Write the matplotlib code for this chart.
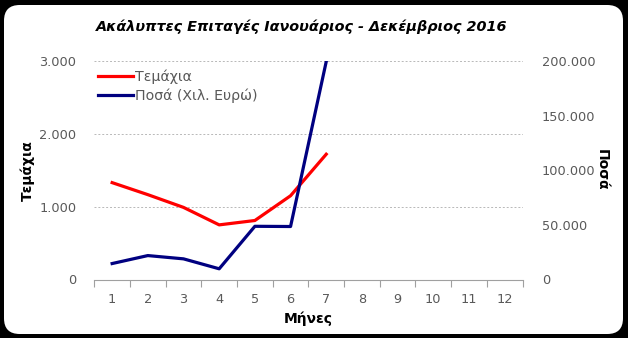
import numpy as np
import matplotlib
matplotlib.use("Agg")
import matplotlib.pyplot as plt
from matplotlib.patches import FancyBboxPatch
from matplotlib.ticker import FuncFormatter, FixedLocator

months = list(range(1, 13))
temaxia = [1330, 1165, 990, 750, 810, 1150, 1720]
posa = [14600, 21900, 18900, 9800, 48700, 48500, 199500]

plt.rcParams['font.family'] = ['DejaVu Sans']
gray = "#595959"

fig = plt.figure(figsize=(6.28, 3.38), dpi=100)
fig.patch.set_facecolor("black")
fig.patches.append(FancyBboxPatch((4 / 628, 4 / 338), 619 / 628, 329 / 338,
                                  boxstyle="round,pad=0,rounding_size=0.025",
                                  transform=fig.transFigure, facecolor="white",
                                  edgecolor="none", zorder=-5, mutation_aspect=628 / 338))

ax = fig.add_axes([94.3 / 628, 1 - 279.5 / 338, 428.2 / 628, 218.5 / 338])
ax2 = ax.twinx()
ax.set_facecolor("none")
ax2.set_facecolor("none")

x1 = months[:len(temaxia)]
l1, = ax.plot(x1, temaxia, color="#ff0000", lw=2.3, label="Τεμάχια", zorder=3)
l2, = ax2.plot(months[:len(posa)], posa, color="#000080", lw=2.3, label="Ποσά (Χιλ. Ευρώ)", zorder=3)

ax.set_xlim(0.5, 12.5)
ax.set_ylim(0, 3000)
ax2.set_ylim(0, 200000)
ax.set_yticks([0, 1000, 2000, 3000])
ax2.set_yticks([0, 50000, 100000, 150000, 200000])
fmt = FuncFormatter(lambda v, p: f"{int(v):,}".replace(",", "."))
ax.yaxis.set_major_formatter(fmt)
ax2.yaxis.set_major_formatter(fmt)

ax.set_xticks(months)
ax.xaxis.set_minor_locator(FixedLocator(np.arange(0.5, 13, 1)))
ax.tick_params(axis="x", which="major", length=0, pad=9.5, labelsize=9.3, labelcolor=gray)
ax.tick_params(axis="x", which="minor", length=5, width=0.8, color="#a0a0a0", direction="out")
ax.tick_params(axis="y", length=0, pad=13, labelsize=9.3, labelcolor=gray)
ax2.tick_params(axis="y", length=0, pad=14, labelsize=9.3, labelcolor=gray)

for a in (ax, ax2):
    for s in a.spines.values():
        s.set_visible(False)
ax.spines["bottom"].set_visible(True)
ax.spines["bottom"].set_color("#a0a0a0")
ax.spines["bottom"].set_linewidth(0.8)

for v in [1000, 2000, 3000]:
    ax.axhline(v, color="#b8b8b8", lw=0.7, ls=(0, (2, 2)), zorder=1)

ax.set_ylabel("Τεμάχια", fontsize=10, fontweight="bold")
ax2.set_ylabel("Ποσά", fontsize=10, fontweight="bold", rotation=270, va="bottom")
ax.set_xlabel("Μήνες", fontsize=10, fontweight="bold", labelpad=4)
ax.yaxis.set_label_coords(-59 / 428, 0.5)
ax2.yaxis.set_label_coords(1 + 72 / 428, 0.5)

fig.text(0.481, 1 - 27 / 338, "Ακάλυπτες Επιταγές Ιανουάριος - Δεκέμβριος 2016",
         ha="center", va="center", fontsize=10.4, fontweight="bold", style="italic")

leg = ax.legend(handles=[l1, l2], loc="upper left", bbox_to_anchor=(-0.005, 0.985),
                frameon=False, fontsize=10.2, handlelength=2.5, handletextpad=0.15,
                labelspacing=0.3, borderaxespad=0)
for t in leg.get_texts():
    t.set_color(gray)

fig.savefig("out.png", dpi=100, facecolor=fig.get_facecolor())
